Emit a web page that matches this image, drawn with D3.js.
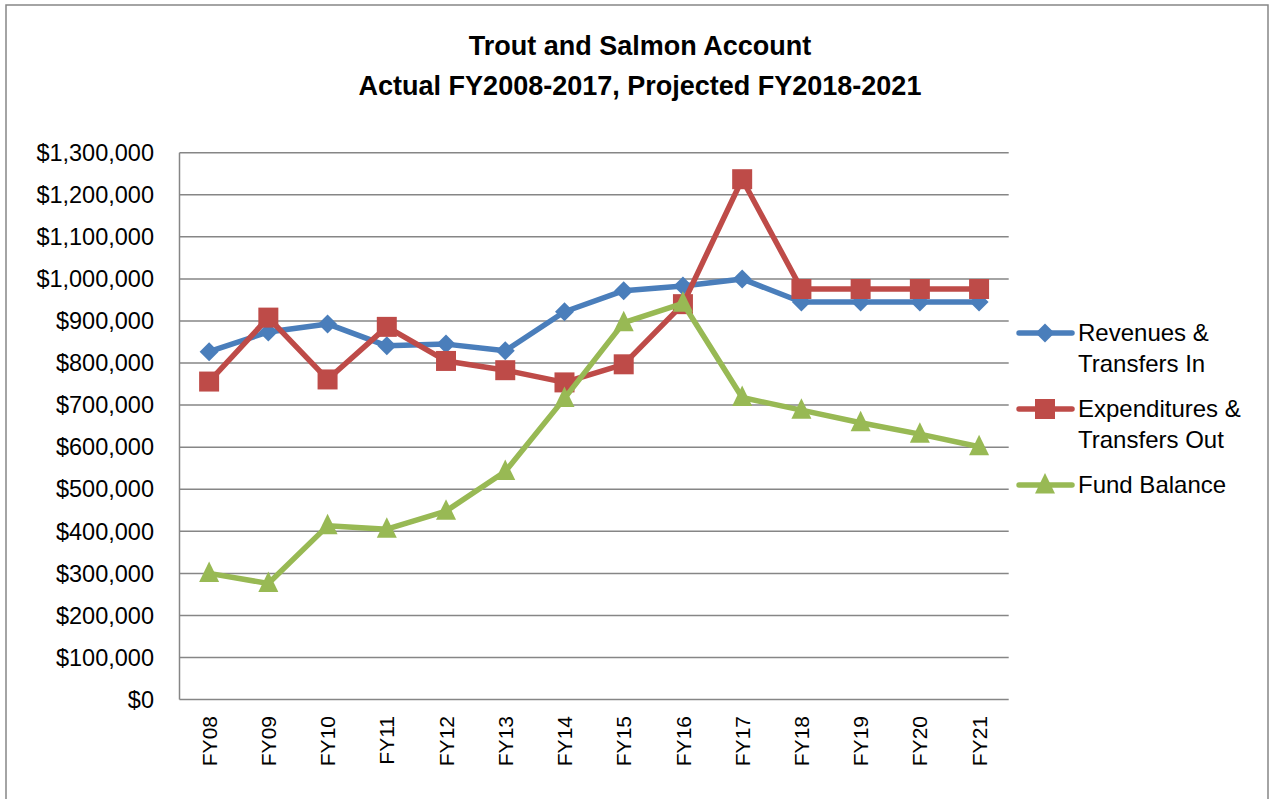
<!DOCTYPE html>
<html><head><meta charset="utf-8">
<script src="https://cdn.jsdelivr.net/npm/d3@7"></script>
<style>html,body{margin:0;padding:0;background:#fff;}svg{display:block;}</style>
</head><body>
<svg id="c" width="1271" height="799"></svg>
<script>
const categories = ["FY08","FY09","FY10","FY11","FY12","FY13","FY14","FY15","FY16","FY17","FY18","FY19","FY20","FY21"];
const revenues = [827000,874000,893000,841000,845000,829000,922000,972000,983000,1000000,945000,945000,945000,945000];
const expenditures = [756000,908000,761000,886000,805000,783000,754000,797000,940000,1237000,976000,976000,976000,976000];
const fundBalance = [300000,276000,413000,405000,448000,542000,716000,896000,942000,718000,688000,658000,631000,601000];
const seriesNames = [["Revenues &","Transfers In"],["Expenditures &","Transfers Out"],["Fund Balance"]];
const yTicks = [0,100000,200000,300000,400000,500000,600000,700000,800000,900000,1000000,1100000,1200000,1300000];
const titleLines = ["Trout and Salmon Account","Actual FY2008-2017, Projected FY2018-2021"];

const colors = ["#4A7EBB","#BE4B48","#98B954"];
const seriesData = [revenues, expenditures, fundBalance];

// marker path generators (centered at 0,0)
const markers = [
  () => "M0,-9.5L9.5,0L0,9.5L-9.5,0Z",
  () => "M-10,-10H10V10H-10Z",
  () => "M0,-12L10,8.5H-10Z"
];

const svg = d3.select("#c");
const L = 179.5, R = 1008.7, T = 152.7, B = 699.6;
const x = d3.scaleBand().domain(categories).range([L, R]);
const y = d3.scaleLinear().domain([0, 1300000]).range([B, T]);
const font = "'Liberation Sans', Arial, sans-serif";

// outer border
svg.append("rect").attr("x",6).attr("y",5).attr("width",1262).attr("height",820)
  .attr("fill","none").attr("stroke","#868686").attr("stroke-width",1.5);

// title
titleLines.forEach((t,i)=>{
  svg.append("text").attr("x",640).attr("y", i===0?55:95).attr("text-anchor","middle")
    .attr("font-family",font).attr("font-weight","bold").attr("font-size",27)
    .attr("fill","#000").text(t);
});

// gridlines
svg.append("g").selectAll("line").data(yTicks).join("line")
  .attr("x1",L).attr("x2",R).attr("y1",d=>y(d)).attr("y2",d=>y(d))
  .attr("stroke","#868686").attr("stroke-width",1.5);
// y axis line
svg.append("line").attr("x1",L).attr("x2",L).attr("y1",T).attr("y2",B)
  .attr("stroke","#868686").attr("stroke-width",1.5);

// y labels
const fmt = d => "$" + d3.format(",")(d);
svg.append("g").selectAll("text").data(yTicks).join("text")
  .attr("x",154).attr("y",d=>y(d)).attr("dy","0.35em").attr("text-anchor","end")
  .attr("font-family",font).attr("font-size",23.5).attr("fill","#000").text(fmt);

// x labels
svg.append("g").selectAll("text").data(categories).join("text")
  .attr("transform",d=>`translate(${x(d)+x.bandwidth()/2},716) rotate(-90)`)
  .attr("dy","0.36em").attr("text-anchor","end")
  .attr("font-family",font).attr("font-size",21).attr("fill","#000").text(d=>d);

// series
const line = d3.line().x((d,i)=>x(categories[i])+x.bandwidth()/2).y(d=>y(d));
seriesData.forEach((data,s)=>{
  const g = svg.append("g");
  g.append("path").datum(data).attr("d",line).attr("fill","none")
    .attr("stroke",colors[s]).attr("stroke-width",5.5).attr("stroke-linejoin","round");
  g.selectAll("path.m").data(data).join("path").attr("class","m")
    .attr("transform",(d,i)=>`translate(${x(categories[i])+x.bandwidth()/2},${y(d)})`)
    .attr("d",markers[s]()).attr("fill",colors[s]);
});

// legend
const legY = [333, 409, 485];
seriesNames.forEach((names,s)=>{
  const g = svg.append("g");
  g.append("line").attr("x1",1019).attr("x2",1072).attr("y1",legY[s]).attr("y2",legY[s])
    .attr("stroke",colors[s]).attr("stroke-width",5.5).attr("stroke-linecap","round");
  g.append("path").attr("transform",`translate(1045,${legY[s]})`)
    .attr("d",markers[s]()).attr("fill",colors[s]);
  names.forEach((n,j)=>{
    g.append("text").attr("x",1078).attr("y",legY[s]+j*31).attr("dy","0.35em")
      .attr("font-family",font).attr("font-size",24).attr("fill","#000").text(n);
  });
});
</script>
</body></html>
